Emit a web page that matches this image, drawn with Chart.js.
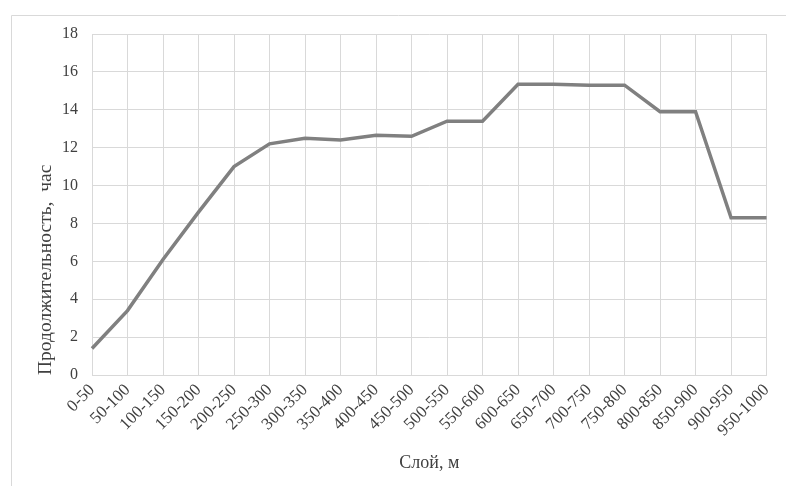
<!DOCTYPE html>
<html>
<head>
<meta charset="utf-8">
<script src="https://cdn.jsdelivr.net/npm/chart.js@4/dist/chart.umd.min.js"></script>
<style>
    body { margin: 0; background: #ffffff; }
    #wrap { width: 786px; height: 486px; }
</style>
</head>
<body>
<div id="wrap"><canvas id="chart"></canvas></div>
<script>
// Layers (m) and duration (hours)
const layers = ["0-50", "50-100", "100-150", "150-200", "200-250", "250-300", "300-350",
    "350-400", "400-450", "450-500", "500-550", "550-600", "600-650", "650-700",
    "700-750", "750-800", "800-850", "850-900", "900-950", "950-1000"];
const durations = [1.4, 3.4, 6.1, 8.6, 11.0, 12.2, 12.5, 12.4, 12.65, 12.6,
    13.4, 13.4, 15.35, 15.35, 15.3, 15.3, 13.9, 13.9, 8.3, 8.3];
const yMin = 0;
const yMax = 18;
const yStep = 2;

const textColor = "#404040";
const gridColor = "#d9d9d9";

// thin frame around the chart, like the pasted office chart
const framePlugin = {
    id: "frame",
    beforeDraw(chart) {
        const c = chart.ctx;
        c.save();
        c.strokeStyle = gridColor;
        c.lineWidth = 1;
        c.beginPath();
        c.moveTo(11.5, chart.height);
        c.lineTo(11.5, 15.5);
        c.lineTo(chart.width, 15.5);
        c.stroke();
        c.restore();
    }
};

const ctx = document.getElementById("chart").getContext("2d");
const chart = new Chart(ctx, {
    type: "line",
    data: {
        labels: layers,
        datasets: [{
            data: durations,
            borderColor: "#808080",
            borderWidth: 3.5,
            pointRadius: 0,
            fill: false,
            tension: 0
        }]
    },
    options: {
        responsive: true,
        maintainAspectRatio: false,
        animation: false,
        layout: {
            padding: { top: 34, right: 19, bottom: 0, left: 0 }
        },
        plugins: {
            legend: { display: false },
            tooltip: { enabled: false }
        },
        scales: {
            x: {
                offset: false,
                grid: { color: gridColor, drawTicks: false },
                border: { color: gridColor },
                ticks: {
                    color: textColor,
                    font: { family: "Liberation Serif", size: 17 },
                    minRotation: 45,
                    maxRotation: 45,
                    autoSkip: false,
                    padding: 5
                },
                title: {
                    display: true,
                    text: "Слой, м",
                    color: textColor,
                    font: { family: "Liberation Serif", size: 18 },
                    padding: { top: 0, bottom: 12 }
                },
                afterFit(scale) { scale.height = 111; }
            },
            y: {
                min: yMin,
                max: yMax,
                grid: { color: gridColor, drawTicks: false },
                border: { display: false },
                ticks: {
                    stepSize: yStep,
                    color: textColor,
                    font: { family: "Liberation Serif", size: 16 },
                    padding: 14
                },
                title: {
                    display: true,
                    text: "Продолжительность,  час",
                    align: "start",
                    color: textColor,
                    font: { family: "Liberation Serif", size: 19.5 },
                    padding: { top: 34, bottom: 0 }
                },
                afterFit(scale) { scale.width = 92; }
            }
        }
    },
    plugins: [framePlugin]
});
</script>
</body>
</html>
